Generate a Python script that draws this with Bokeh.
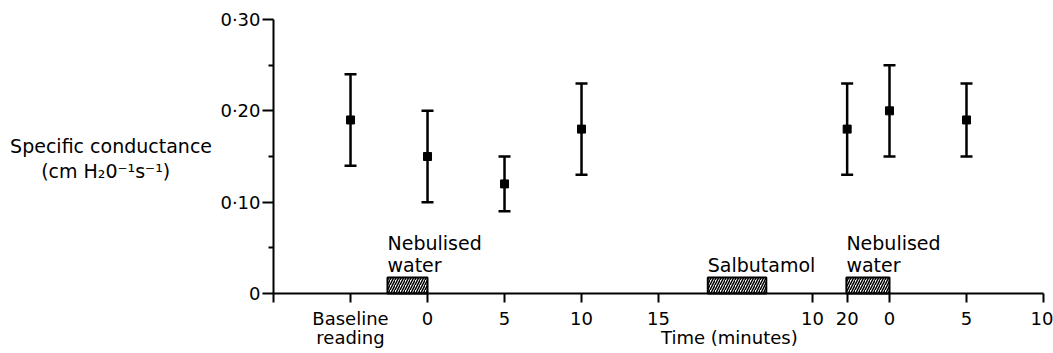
from bokeh.plotting import figure
from bokeh.models import (ColumnDataSource, FixedTicker, Label, Whisker, TeeHead, Range1d, LinearAxis)
from bokeh.embed import file_html
from bokeh.resources import INLINE

# ---- data ----
# time positions along the sequential time axis (minutes since start of first nebulisation)
point_time = [-5, 0, 5, 10, 27.25, 30, 35]
point_mean = [0.19, 0.15, 0.12, 0.18, 0.18, 0.20, 0.19]
point_low = [0.14, 0.10, 0.09, 0.13, 0.13, 0.15, 0.15]
point_high = [0.24, 0.20, 0.15, 0.23, 0.23, 0.25, 0.23]

x_tick_pos = [-10, -5, 0, 5, 10, 15, 25, 27.25, 30, 35, 40]
x_tick_lab = ["", "Baseline\nreading", "0", "5", "10", "15", "10", "20", "0", "5", "10"]

y_tick_pos = [0, 0.1, 0.2, 0.3]
y_tick_lab = ["0", "0·10", "0·20", "0·30"]
y_minor_pos = [0.05, 0.15, 0.25]

treat_names = ["Nebulised\nwater", "Salbutamol", "Nebulised\nwater"]
treat_start = [-2.6, 18.2, 27.2]
treat_end = [0.0, 22.0, 30.0]
treat_height = 0.0175

x_title = "Time (minutes)"
y_title_1 = "Specific conductance"
y_title_2 = "(cm H₂0⁻¹s⁻¹)"

FONT = "DejaVu Sans"
FS = "18px"
FS_L = "19px"

# frame covers the whole canvas; axes are drawn at fixed data locations
p = figure(width=1053, height=353, output_backend="svg", toolbar_location=None,
           x_axis_type=None, y_axis_type=None,
           x_range=Range1d(-27.73, 40.65), y_range=Range1d(-0.0657, 0.3208),
           min_border_left=0, min_border_right=0, min_border_top=0, min_border_bottom=0)
p.outline_line_color = None
p.background_fill_color = "white"
p.border_fill_color = "white"

xa = LinearAxis(fixed_location=0, bounds=(-10, 40))
xa.ticker = FixedTicker(ticks=x_tick_pos)
xa.major_label_overrides = {t: l for t, l in zip(x_tick_pos, x_tick_lab)}
xa.axis_line_width = 2
xa.major_tick_line_width = 2
xa.major_tick_in = 0
xa.major_tick_out = 9
xa.minor_tick_line_color = None
xa.major_label_text_font = FONT
xa.major_label_text_font_size = FS
xa.major_label_text_color = "black"
xa.major_label_text_line_height = 0.9
xa.major_label_standoff = 6
p.add_layout(xa, "below")

ya = LinearAxis(fixed_location=-10, bounds=(0, 0.30))
ya.ticker = FixedTicker(ticks=y_tick_pos, minor_ticks=y_minor_pos)
ya.major_label_overrides = {t: l for t, l in zip(y_tick_pos, y_tick_lab)}
ya.axis_line_width = 2
ya.major_tick_line_width = 2
ya.minor_tick_line_width = 2
ya.major_tick_in = 0
ya.major_tick_out = 11
ya.minor_tick_in = 0
ya.minor_tick_out = 5
ya.major_label_text_font = FONT
ya.major_label_text_font_size = FS
ya.major_label_text_color = "black"
ya.major_label_standoff = 2
p.add_layout(ya, "left")

# treatment boxes
p.quad(left=treat_start, right=treat_end, bottom=[0]*3, top=[treat_height]*3,
       fill_color="white", line_color="black", line_width=2,
       hatch_pattern="/", hatch_color="black", hatch_scale=5, hatch_weight=1.5)
for name, s in zip(treat_names, treat_start):
    p.add_layout(Label(x=s, y=0.019, text=name, text_font=FONT, text_font_size=FS_L,
                       text_color="black", text_align="left", text_baseline="bottom",
                       text_line_height=1.0))

# error bars
src = ColumnDataSource(dict(x=point_time, m=point_mean, lo=point_low, hi=point_high))
w = Whisker(source=src, base="x", lower="lo", upper="hi", line_width=2.5, line_color="black",
            upper_head=TeeHead(size=12, line_width=2.5, line_color="black"),
            lower_head=TeeHead(size=12, line_width=2.5, line_color="black"))
p.add_layout(w)
p.scatter("x", "m", source=src, marker="square", size=8, color="black")

# axis titles
p.add_layout(Label(x=-20.55, y=0.161, text=y_title_1, text_font=FONT, text_color="black",
                   text_font_size=FS_L, text_align="center", text_baseline="middle"))
p.add_layout(Label(x=-20.9, y=0.1345, text=y_title_2, text_font=FONT, text_color="black",
                   text_font_size=FS_L, text_align="center", text_baseline="middle"))
p.add_layout(Label(x=19.6, y=-0.0482, text=x_title, text_font=FONT, text_color="black",
                   text_font_size=FS, text_align="center", text_baseline="middle"))

open("out.html", "w").write(file_html(p, INLINE))
